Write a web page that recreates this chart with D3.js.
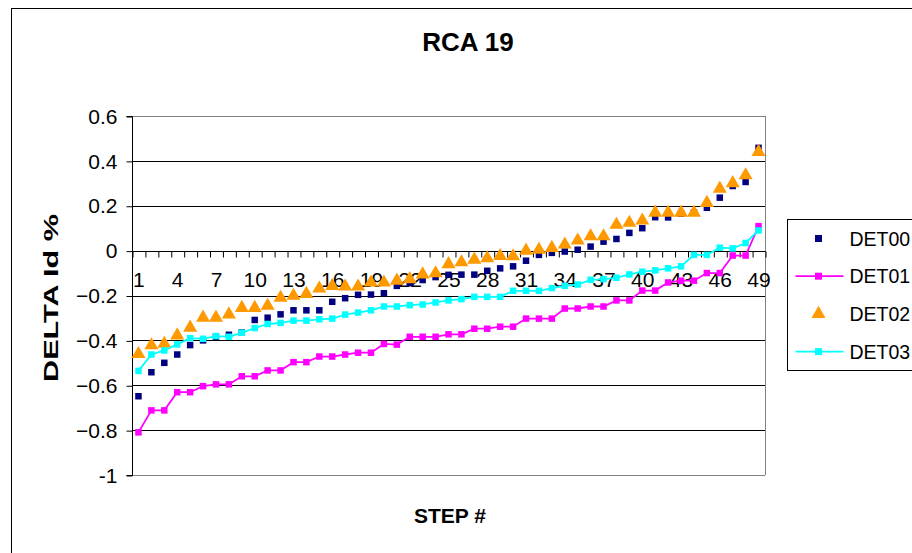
<!DOCTYPE html>
<html>
<head>
<meta charset="utf-8">
<script src="https://cdn.jsdelivr.net/npm/d3@7"></script>
<style>
  body { margin: 0; background: #fff; }
  text { font-family: "Liberation Sans", Arial, sans-serif; }
</style>
</head>
<body>
<div id="chart"></div>
<script>
var svgWidth = 912;
var svgHeight = 553;

// step numbers 1..49 and the tick labels shown on the axis
var steps = d3.range(1, 50);
var stepLabels = [1, 4, 7, 10, 13, 16, 19, 22, 25, 28, 31, 34, 37, 40, 43, 46, 49];
var yTicks = [-1, -0.8, -0.6, -0.4, -0.2, 0, 0.2, 0.4, 0.6];

var det00 = [-0.649, -0.542, -0.500, -0.463, -0.421, -0.400, -0.384, -0.375, -0.365, -0.309,
  -0.299, -0.284, -0.266, -0.266, -0.266, -0.228, -0.212, -0.197, -0.196, -0.190,
  -0.157, -0.145, -0.131, -0.118, -0.108, -0.107, -0.107, -0.090, -0.079, -0.070,
  -0.045, -0.019, -0.010, -0.004, 0.004, 0.018, 0.040, 0.052, 0.079, 0.100,
  0.149, 0.148, 0.165, 0.170, 0.191, 0.236, 0.288, 0.306, 0.458];
var det01 = [-0.810, -0.712, -0.712, -0.631, -0.631, -0.604, -0.596, -0.596, -0.560, -0.560,
  -0.534, -0.534, -0.497, -0.497, -0.472, -0.472, -0.463, -0.455, -0.455, -0.416,
  -0.419, -0.384, -0.384, -0.384, -0.373, -0.373, -0.348, -0.348, -0.339, -0.339,
  -0.303, -0.303, -0.303, -0.258, -0.258, -0.249, -0.249, -0.222, -0.222, -0.178,
  -0.178, -0.142, -0.134, -0.134, -0.100, -0.100, -0.022, -0.022, 0.109];
var det02 = [-0.461, -0.422, -0.415, -0.378, -0.343, -0.299, -0.299, -0.284, -0.255, -0.255,
  -0.246, -0.210, -0.201, -0.193, -0.169, -0.157, -0.160, -0.160, -0.142, -0.142,
  -0.134, -0.127, -0.106, -0.101, -0.060, -0.052, -0.040, -0.034, -0.024, -0.025,
  0.000, 0.004, 0.012, 0.027, 0.045, 0.064, 0.064, 0.115, 0.124, 0.134,
  0.169, 0.169, 0.169, 0.169, 0.213, 0.276, 0.301, 0.336, 0.440];
var det03 = [-0.536, -0.463, -0.445, -0.418, -0.390, -0.393, -0.381, -0.384, -0.366, -0.345,
  -0.327, -0.322, -0.312, -0.312, -0.306, -0.303, -0.285, -0.276, -0.266, -0.249,
  -0.249, -0.243, -0.240, -0.231, -0.222, -0.216, -0.206, -0.206, -0.206, -0.179,
  -0.179, -0.179, -0.167, -0.157, -0.151, -0.130, -0.127, -0.121, -0.106, -0.094,
  -0.088, -0.079, -0.070, -0.019, -0.019, 0.013, 0.010, 0.034, 0.090];

var seriesNames = ["DET00", "DET01", "DET02", "DET03"];
var seriesColors = ["#000080", "#FF00FF", "#FF9900", "#00FFFF"];

var plot = { left: 132, right: 765, top: 116, bottom: 475 };

var svg = d3.select("#chart")
  .append("svg")
  .attr("width", svgWidth)
  .attr("height", svgHeight);

// outer chart border
svg.append("rect")
  .attr("x", 11.5).attr("y", 8.5)
  .attr("width", 1000).attr("height", 700)
  .attr("fill", "white")
  .attr("stroke", "black");

var x = d3.scaleLinear().domain([0.5, 49.5]).range([plot.left, plot.right]);
var y = d3.scaleLinear().domain([-1, 0.6]).range([plot.bottom, plot.top]);

// gridlines
svg.append("g")
  .selectAll("line")
  .data(yTicks)
  .enter()
  .append("line")
  .attr("x1", plot.left).attr("x2", plot.right)
  .attr("y1", d => Math.round(y(d)) + 0.5).attr("y2", d => Math.round(y(d)) + 0.5)
  .attr("stroke", d => (d === 0.6 || d === -1) ? "#808080" : "black")
  .attr("stroke-width", 1);

// right border of plot area
svg.append("line")
  .attr("x1", plot.right + 0.5).attr("x2", plot.right + 0.5)
  .attr("y1", plot.top).attr("y2", plot.bottom)
  .attr("stroke", "#808080");

// y axis
var leftAxis = d3.axisLeft(y)
  .tickValues(yTicks)
  .tickSize(6)
  .tickPadding(9)
  .tickFormat(d => d === 0 ? "0" : (d === -1 ? "-1" : d3.format(".1f")(d)));

var yAxisG = svg.append("g")
  .attr("transform", `translate(${plot.left + 0.5}, 0.5)`)
  .call(leftAxis);
yAxisG.select(".domain").attr("stroke", "black").attr("d", `M-6,${plot.top}H0V${plot.bottom}H-6`);
yAxisG.selectAll("text")
  .attr("font-size", "21px")
  .attr("font-family", "Liberation Sans, Arial, sans-serif")
  .attr("fill", "black");

// x axis on the zero line: ticks at category boundaries
var y0 = Math.round(y(0)) + 0.5;
var tickAxis = d3.axisBottom(x)
  .tickValues(d3.range(0.5, 50, 1))
  .tickSize(6)
  .tickFormat("");
var xAxisG = svg.append("g")
  .attr("transform", `translate(0.5, ${y0})`)
  .call(tickAxis);
xAxisG.select(".domain").attr("stroke", "black").attr("d", `M${plot.left},0H${plot.right}`);

var labelAxis = d3.axisBottom(x)
  .tickValues(stepLabels)
  .tickSize(0)
  .tickPadding(21);
var xLabelG = svg.append("g")
  .attr("transform", `translate(0, ${y0})`)
  .call(labelAxis);
xLabelG.select(".domain").remove();
xLabelG.selectAll("text")
  .attr("font-size", "21px")
  .attr("font-family", "Liberation Sans, Arial, sans-serif")
  .attr("fill", "black");

// series
var allSeries = [det00, det01, det02, det03];
var line = d3.line()
  .x((d, i) => x(steps[i]))
  .y(d => y(d));

allSeries.forEach(function(vals, s) {
  var g = svg.append("g");
  if (s === 1 || s === 3) {
    g.append("path")
      .attr("d", line(vals))
      .attr("fill", "none")
      .attr("stroke", seriesColors[s])
      .attr("stroke-width", 1.8);
  }
  if (s === 2) {
    g.selectAll("path.pt")
      .data(vals)
      .enter()
      .append("path")
      .attr("class", "pt")
      .attr("d", d3.symbol().type(d3.symbolTriangle).size(85))
      .attr("transform", (d, i) => `translate(${x(steps[i])}, ${y(d)})`)
      .attr("fill", seriesColors[s]);
  } else {
    var sz = 6.5;
    g.selectAll("rect")
      .data(vals)
      .enter()
      .append("rect")
      .attr("x", (d, i) => x(steps[i]) - sz / 2)
      .attr("y", d => y(d) - sz / 2)
      .attr("width", sz)
      .attr("height", sz)
      .attr("fill", seriesColors[s]);
  }
});

// title and axis titles
svg.append("text")
  .attr("x", 468).attr("y", 51)
  .attr("text-anchor", "middle")
  .attr("font-size", "26px")
  .attr("font-weight", "bold")
  .text("RCA 19");

svg.append("text")
  .attr("transform", "translate(58, 298) rotate(-90)")
  .attr("text-anchor", "middle")
  .attr("font-size", "21px")
  .attr("font-weight", "bold")
  .attr("textLength", 168)
  .attr("lengthAdjust", "spacingAndGlyphs")
  .text("DELTA Id %");

svg.append("text")
  .attr("x", 450).attr("y", 523)
  .attr("text-anchor", "middle")
  .attr("font-size", "21px")
  .attr("font-weight", "bold")
  .text("STEP #");

// legend
var legend = svg.append("g").attr("transform", "translate(787.5, 219.5)");
legend.append("rect")
  .attr("width", 200).attr("height", 151)
  .attr("fill", "white")
  .attr("stroke", "black");

seriesNames.forEach(function(name, s) {
  var ly = 19 + s * 37.7;
  var row = legend.append("g").attr("transform", `translate(0, ${ly})`);
  if (s === 1 || s === 3) {
    row.append("line")
      .attr("x1", 8).attr("x2", 56)
      .attr("stroke", seriesColors[s])
      .attr("stroke-width", 1.8);
  }
  if (s === 2) {
    row.append("path")
      .attr("d", d3.symbol().type(d3.symbolTriangle).size(85))
      .attr("transform", "translate(31, 0)")
      .attr("fill", seriesColors[s]);
  } else {
    row.append("rect")
      .attr("x", 31 - 3.5).attr("y", -3.5)
      .attr("width", 7).attr("height", 7)
      .attr("fill", seriesColors[s]);
  }
  row.append("text")
    .attr("x", 62).attr("y", 7)
    .attr("font-size", "19.5px")
    .text(name);
});
</script>
</body>
</html>
